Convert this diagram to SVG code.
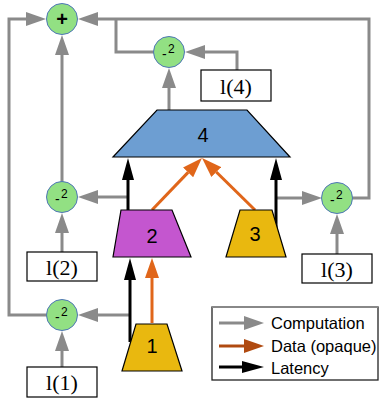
<svg xmlns="http://www.w3.org/2000/svg" width="380" height="403" viewBox="0 0 380 403">
<style>
.g{fill:none;stroke:#8a8a8a;stroke-width:3}
.k{fill:none;stroke:#000;stroke-width:3}
.o{fill:none;stroke:#e0661a;stroke-width:3}
.c{fill:#92e083;stroke:#4f75b8;stroke-width:1}
.t{stroke:#000;stroke-width:1.2}
.box{fill:#fff;stroke:#000;stroke-width:1.2}
.lb{font-family:"Liberation Serif",serif;font-size:22px;text-anchor:middle}
.tn{font-family:"Liberation Sans",Arial,sans-serif;font-size:20px;text-anchor:middle}
.sq{font-family:"Liberation Sans",Arial,sans-serif;font-size:14px}
.lg{font-family:"Liberation Sans",Arial,sans-serif;font-size:16.5px}
</style>
<defs>
<marker id="ag" markerUnits="userSpaceOnUse" markerWidth="20" markerHeight="14" refX="0" refY="7" orient="auto"><path d="M0,0 L20,7 L0,14 z" fill="#8a8a8a"/></marker>
<marker id="ak" markerUnits="userSpaceOnUse" markerWidth="22" markerHeight="12" refX="0" refY="6" orient="auto"><path d="M0,0 L22,6 L0,12 z" fill="#000"/></marker>
<marker id="ao" markerUnits="userSpaceOnUse" markerWidth="20" markerHeight="14" refX="0" refY="7" orient="auto"><path d="M0,0 L20,7 L0,14 z" fill="#e0661a"/></marker>
<marker id="ab" markerUnits="userSpaceOnUse" markerWidth="20" markerHeight="14" refX="0" refY="7" orient="auto"><path d="M0,0 L20,7 L0,14 z" fill="#b04a10"/></marker>
</defs>
<g id="connectors">
<path class="g" d="M47,315 H9 V19 H26" marker-end="url(#ag)"/>
<path class="g" d="M62,182 V55" marker-end="url(#ag)"/>
<path class="g" d="M352,198 H369 V19 H98" marker-end="url(#ag)"/>
<path class="g" d="M154,52 H116 V19"/>
<path class="g" d="M237,70 V52 H205" marker-end="url(#ag)"/>
<path class="g" d="M169,110 V88" marker-end="url(#ag)"/>
<path class="g" d="M128,197 H98" marker-end="url(#ag)"/>
<path class="g" d="M62,252 V233" marker-end="url(#ag)"/>
<path class="g" d="M276,198 H302" marker-end="url(#ag)"/>
<path class="g" d="M337,254 V234" marker-end="url(#ag)"/>
<path class="g" d="M130,315 H98" marker-end="url(#ag)"/>
<path class="g" d="M62,367 V351" marker-end="url(#ag)"/>
<path class="k" d="M128,222 V180" marker-end="url(#ak)"/>
<path class="k" d="M276,228 V180" marker-end="url(#ak)"/>
<path class="k" d="M130,342 V280" marker-end="url(#ak)"/>
<path class="o" d="M152,323 V278" marker-end="url(#ao)"/>
<path class="o" d="M152,210 L188.1,172.4" marker-end="url(#ao)"/>
<path class="o" d="M255,210 L216.3,172" marker-end="url(#ao)"/>
</g>
<g id="plus"><circle class="c" cx="62" cy="19" r="15.5"/><text class="tn" x="62" y="26" font-weight="bold" font-size="20">+</text></g>
<g id="sq4"><circle class="c" cx="169" cy="52" r="15.5"/><text class="sq"><tspan x="162" y="59">-</tspan><tspan x="168" y="53" font-size="12">2</tspan></text></g>
<g id="sq2"><circle class="c" cx="62" cy="197" r="15.5"/><text class="sq"><tspan x="55" y="204">-</tspan><tspan x="61" y="198" font-size="12">2</tspan></text></g>
<g id="sq3"><circle class="c" cx="337" cy="198" r="15.5"/><text class="sq"><tspan x="330" y="205">-</tspan><tspan x="336" y="199" font-size="12">2</tspan></text></g>
<g id="sq1"><circle class="c" cx="62" cy="315" r="15.5"/><text class="sq"><tspan x="55" y="322">-</tspan><tspan x="61" y="316" font-size="12">2</tspan></text></g>
<g id="n4"><path class="t" d="M157,110 H247 L290,157 H113 z" fill="#6d9ed2"/><text class="tn" x="203" y="142">4</text></g>
<g id="n2"><path class="t" d="M121,210 H172 L191,257 H113 z" fill="#c456cf"/><text class="tn" x="152" y="243">2</text></g>
<g id="n3"><path class="t" d="M240,210 H272 L286,257 H226 z" fill="#e9b80f"/><text class="tn" x="255" y="241">3</text></g>
<g id="n1"><path class="t" d="M136,324 H167 L182,371 H122 z" fill="#e9b80f"/><text class="tn" x="152" y="353">1</text></g>
<g id="l4"><rect class="box" x="201" y="70" width="70" height="31"/><text class="lb" x="236" y="94">l(4)</text></g>
<g id="l2"><rect class="box" x="27" y="252" width="70" height="29"/><text class="lb" x="62" y="275">l(2)</text></g>
<g id="l3"><rect class="box" x="302" y="254" width="70" height="29"/><text class="lb" x="337" y="277">l(3)</text></g>
<g id="l1"><rect class="box" x="27" y="367" width="70" height="30"/><text class="lb" x="62" y="390">l(1)</text></g>
<g id="legend">
<rect x="212" y="307" width="166" height="73" fill="#fff" stroke="#222" stroke-width="1.3"/>
<line x1="212" y1="307" x2="378" y2="307" stroke="#888" stroke-width="2"/>
<path class="g" d="M219,323 H244" marker-end="url(#ag)"/>
<path d="M219,346 H244" fill="none" stroke="#b04a10" stroke-width="3" marker-end="url(#ab)"/>
<path class="k" d="M219,367 H242" marker-end="url(#ak)"/>
<text class="lg" x="271" y="329">Computation</text>
<text class="lg" x="271" y="352">Data (opaque)</text>
<text class="lg" x="271" y="374">Latency</text>
</g>
</svg>
